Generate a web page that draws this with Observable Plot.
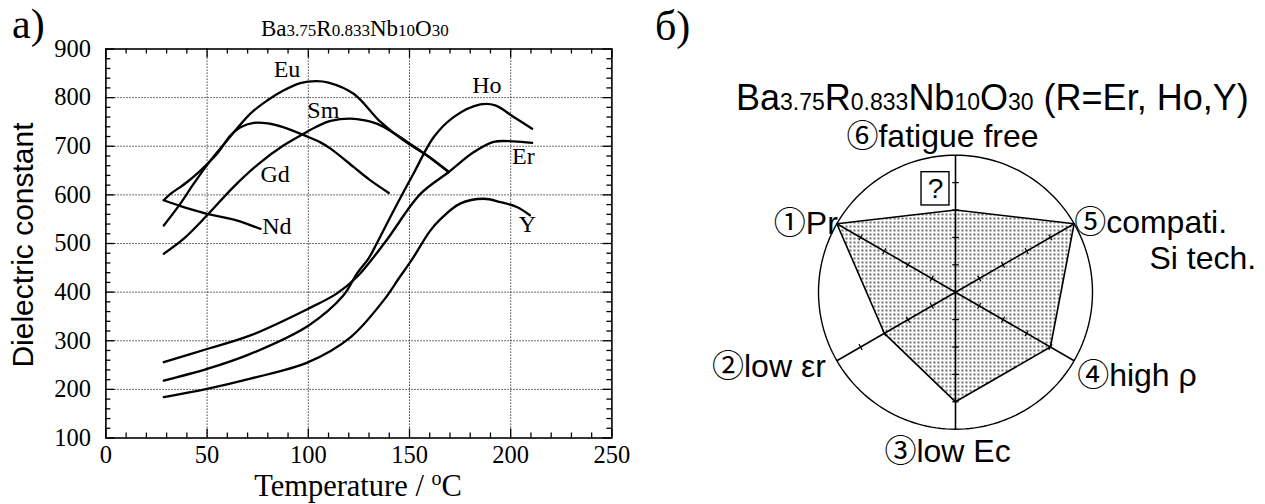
<!DOCTYPE html>
<html><head><meta charset="utf-8">
<script src="https://cdn.jsdelivr.net/npm/d3@7"></script>
<script src="https://cdn.jsdelivr.net/npm/@observablehq/plot@0.6"></script>
<style>
body{margin:0;background:#fff}
#wrap{position:relative;width:1265px;height:504px;overflow:hidden;background:#fff}
.abs{position:absolute;white-space:nowrap;line-height:1;color:#000}
.serif{font-family:"Liberation Serif","Times New Roman",serif}
.sans{font-family:"Liberation Sans",Arial,sans-serif}
</style></head><body>
<div id="wrap">
<div id="left" style="position:absolute;left:0;top:0;width:640px;height:504px"></div>
<div id="right" style="position:absolute;left:640px;top:0;width:625px;height:504px"></div>
<div class="abs serif" style="left:12px;top:3px;font-size:42px">a)</div>
<div class="abs serif" style="left:261px;top:17px;font-size:23px">Ba<span style="font-size:17px">3.75</span>R<span style="font-size:17px">0.833</span>Nb<span style="font-size:17px">10</span>O<span style="font-size:17px">30</span></div>
<div class="abs serif" style="left:105px;width:506px;text-align:center;top:468px;font-size:30.5px">Temperature / <span style="font-size:20px;vertical-align:11px">o</span>C</div>
<div class="abs sans" style="left:-127px;width:300px;text-align:center;top:230px;height:30px;font-size:30px;transform:rotate(-90deg)">Dielectric constant</div>
<div class="abs serif" style="left:655px;top:5px;font-size:42px">б)</div>
<div class="abs sans" style="left:736px;top:80px;font-size:36px">Ba<span style="font-size:23px">3.75</span>R<span style="font-size:23px">0.833</span>Nb<span style="font-size:23px">10</span>O<span style="font-size:23px">30</span> (R=Er, Ho,Y)</div>
</div>
<script>
// ---------- panel a) data: temperature (°C) and dielectric constant ----------
const seriesNames = ["Nd","Gd","Eu","Sm","Er","Ho","Y"];
const tNd = [28.6,36.9,43,50,57,63.2,70,76.4];
const eNd = [589,577,569,561,555,549,540,530];
const tGd = [28.6,31.9,36,40,46.7,55,61.5,66.5,73,80,87.9,100,106,111,122.5,130,139.8];
const eGd = [589,602,614,626,650,685,722,739,748,747,739,719,708,695,657,632,604];
const tEu = [28.6,36.8,43.4,51.7,59.9,71.4,79.7,87.9,96,104,110,122.4,135.7,147,158.7,169.4];
const eEu = [537,582,623,671,712,767,794,815,830,834,831,808,750,712,681,647];
const tSm = [28.6,38.5,50,63,76.4,87.9,97.8,104,111,120.8,128,135.7,148.9,158.7,169.4];
const eSm = [479,510,558,616,667,702,726,740,752,757,753,743,709,681,647];
const tEr = [28.6,50,71.4,100,114,124,138,155.4,169.4,181.8,191.6,201.5,210.6];
const eEr = [256,283,311,366,397,431,503,602,647,688,709,710,707];
const tHo = [28.6,50,71.4,100,117.3,124,129.9,133.8,142.2,152,162,171.8,185,192.4,201.5,210.6];
const eHo = [218,242,273,331,393,438,470,500,568,644,719,760,786,784,760,736];
const tY = [28.6,50,71.4,100,120.8,137.2,144.7,152,160,165.3,175,186.6,195,203,209.5];
const eY = [184,201,222,256,307,383,428,472,525,550,582,592,585,575,558];
const seriesT = {Nd:tNd,Gd:tGd,Eu:tEu,Sm:tSm,Er:tEr,Ho:tHo,Y:tY};
const seriesE = {Nd:eNd,Gd:eGd,Eu:eEu,Sm:eSm,Er:eEr,Ho:eHo,Y:eY};
// curve label anchors (data coords)
const labelText = ["Eu","Sm","Gd","Nd","Ho","Er","Y"];
const labelT = [82.9,99.5,76.4,77.2,181,200.7,204];
const labelE = [858,774,642,535,825,679,539];
// axis ticks
const xTicks = [0,50,100,150,200,250];
const yTicks = [100,200,300,400,500,600,700,800,900];
const xGrid = [50,100,150,200];
const yGrid = [200,300,400,500,600,700,800];
const xMinor = [10,20,30,40,60,70,80,90,110,120,130,140,160,170,180,190,210,220,230,240];
const yMinor = [120,140,160,180,220,240,260,280,320,340,360,380,420,440,460,480,520,540,560,580,620,640,660,680,720,740,760,780,820,840,860,880];

const rows = [];
for (const s of seriesNames) seriesT[s].forEach((t,i)=>rows.push({s, T:t, e:seriesE[s][i]}));
const labels = labelText.map((t,i)=>({text:t, T:labelT[i], e:labelE[i]}));

const W=640, H=504, mL=105.4, mR=28.6, mT=48.5, mB=66.5;
const iW=W-mL-mR, iH=H-mT-mB;
const major=9, minor=5;
const leftPlot = Plot.plot({
  width:W, height:H, marginLeft:mL, marginRight:mR, marginTop:mT, marginBottom:mB,
  style:{fontFamily:"Liberation Serif, Times New Roman, serif", fontSize:"24.5px", color:"black", background:"white", overflow:"visible"},
  x:{domain:[0,250], ticks:xTicks, tickSize:0, tickPadding:8, label:null},
  y:{domain:[100,900], ticks:yTicks, tickSize:0, tickPadding:15, label:null},
  marks:[
    Plot.ruleX(xGrid, {x:d=>d, stroke:"#222", strokeWidth:1, strokeDasharray:"1.3,1.7"}),
    Plot.ruleY(yGrid, {y:d=>d, stroke:"#222", strokeWidth:1, strokeDasharray:"1.3,1.7"}),
    Plot.tickX(xTicks, {x:d=>d, insetTop:iH-major, stroke:"black", strokeWidth:1.3}),
    Plot.tickX(xTicks, {x:d=>d, insetBottom:iH-major, stroke:"black", strokeWidth:1.3}),
    Plot.tickX(xMinor, {x:d=>d, insetTop:iH-minor, stroke:"black", strokeWidth:1.3}),
    Plot.tickX(xMinor, {x:d=>d, insetBottom:iH-minor, stroke:"black", strokeWidth:1.3}),
    Plot.tickY(yTicks, {y:d=>d, insetRight:iW-major, stroke:"black", strokeWidth:1.3}),
    Plot.tickY(yTicks, {y:d=>d, insetLeft:iW-major, stroke:"black", strokeWidth:1.3}),
    Plot.tickY(yMinor, {y:d=>d, insetRight:iW-minor, stroke:"black", strokeWidth:1.3}),
    Plot.tickY(yMinor, {y:d=>d, insetLeft:iW-minor, stroke:"black", strokeWidth:1.3}),
    Plot.line(rows, {x:"T", y:"e", z:"s", stroke:"black", strokeWidth:2.3, curve:"catmull-rom"}),
    Plot.text(labels, {x:"T", y:"e", text:"text", textAnchor:"start", lineAnchor:"middle", fontSize:24, fill:"black"}),
    Plot.frame({stroke:"black", strokeWidth:1.6})
  ]
});
document.getElementById("left").appendChild(leftPlot);

// ---------- panel б) radar data ----------
const radarAxes = ["①Pr","②low εr","③low Ec","④high ρ","⑤compati.\nSi tech.","⑥fatigue free"];
const radarValues = [1.0,0.6,0.8,0.8,1.0,0.6];
const radarTickValues = [0.2,0.4,0.6,0.8];
// label placement (pixel offsets from each spoke end) – layout only
const radarLabelLayout = [
  [{dx:1, dy:10, anchor:"end"}],
  [{dx:-11, dy:16.5, anchor:"end"}],
  [{dx:-8, dy:33, anchor:"middle"}],
  [{dx:3, dy:25, anchor:"start"}],
  [{dx:0, dy:9, anchor:"start"}, {dx:182, dy:45, anchor:"end"}],
  [{dx:-13, dy:-8, anchor:"middle"}]
];
const ang = i => (150 + 60*i) * Math.PI/180;
const poly = radarValues.map((v,i)=>({x:v*Math.cos(ang(i)), y:v*Math.sin(ang(i))}));
const circle = d3.range(0,361,2).map(a=>({x:Math.cos(a*Math.PI/180), y:Math.sin(a*Math.PI/180)}));
const spokes = radarAxes.map((_,i)=>({x1:0,y1:0,x2:Math.cos(ang(i)),y2:Math.sin(ang(i))}));
const tickLen = 0.024;
const spokeTicks = [];
radarAxes.forEach((_,i)=>{
  const a=ang(i), c=Math.cos(a), s=Math.sin(a);
  radarTickValues.forEach(v=>spokeTicks.push({x1:v*c + tickLen*s, y1:v*s - tickLen*c, x2:v*c - tickLen*s, y2:v*s + tickLen*c}));
});
const radarLabels = [];
radarAxes.forEach((t,i)=>t.split("\n").forEach((line,j)=>radarLabels.push({text:line, x:Math.cos(ang(i)), y:Math.sin(ang(i)), ...radarLabelLayout[i][j]})));
const cx=315, cy=291.7, R=137, RW=625, RH=504;
const labelFont = "Liberation Sans, Noto Sans CJK KR, sans-serif";
const rightPlot = Plot.plot({
  width:RW, height:RH, margin:0,
  x:{domain:[-cx/R, (RW-cx)/R], axis:null},
  y:{domain:[-(RH-cy)/R, cy/R], axis:null},
  style:{fontFamily:labelFont, fontSize:"32px", color:"black", background:"white", overflow:"visible"},
  marks:[
    Plot.line(poly, {x:"x", y:"y", curve:"linear-closed", fill:"#abcdef", stroke:"black", strokeWidth:1.6}),
    Plot.line(circle, {x:"x", y:"y", stroke:"black", strokeWidth:1.4}),
    Plot.link(spokes, {x1:"x1", y1:"y1", x2:"x2", y2:"y2", stroke:"black", strokeWidth:1.6}),
    Plot.link(spokeTicks, {x1:"x1", y1:"y1", x2:"x2", y2:"y2", stroke:"black", strokeWidth:1.2}),
    Plot.rect([{x1:-0.248,x2:-0.044,y1:0.633,y2:0.876}], {x1:"x1",x2:"x2",y1:"y1",y2:"y2", fill:"white", stroke:"black", strokeWidth:1.4}),
    Plot.text(["?"], {x:-0.146, y:0.7545, text:d=>d, fontSize:28, lineAnchor:"middle", fill:"black"}),
    ...radarLabels.map(l=>Plot.text([l], {x:"x", y:"y", text:"text", dx:l.dx, dy:l.dy, textAnchor:l.anchor, lineAnchor:"bottom", fontSize:32, fontFamily:labelFont, fill:"black"}))
  ]
});
const defs = d3.select(rightPlot).insert("defs", ":first-child");
const pat = defs.append("pattern").attr("id","dots").attr("width",4).attr("height",4).attr("patternUnits","userSpaceOnUse");
pat.append("rect").attr("width",4).attr("height",4).attr("fill","white");
pat.append("circle").attr("cx",2).attr("cy",2).attr("r",0.9).attr("fill","#222");
rightPlot.querySelectorAll('[fill="#abcdef"]').forEach(e=>e.setAttribute("fill","url(#dots)"));
document.getElementById("right").appendChild(rightPlot);
</script>
</body></html>
